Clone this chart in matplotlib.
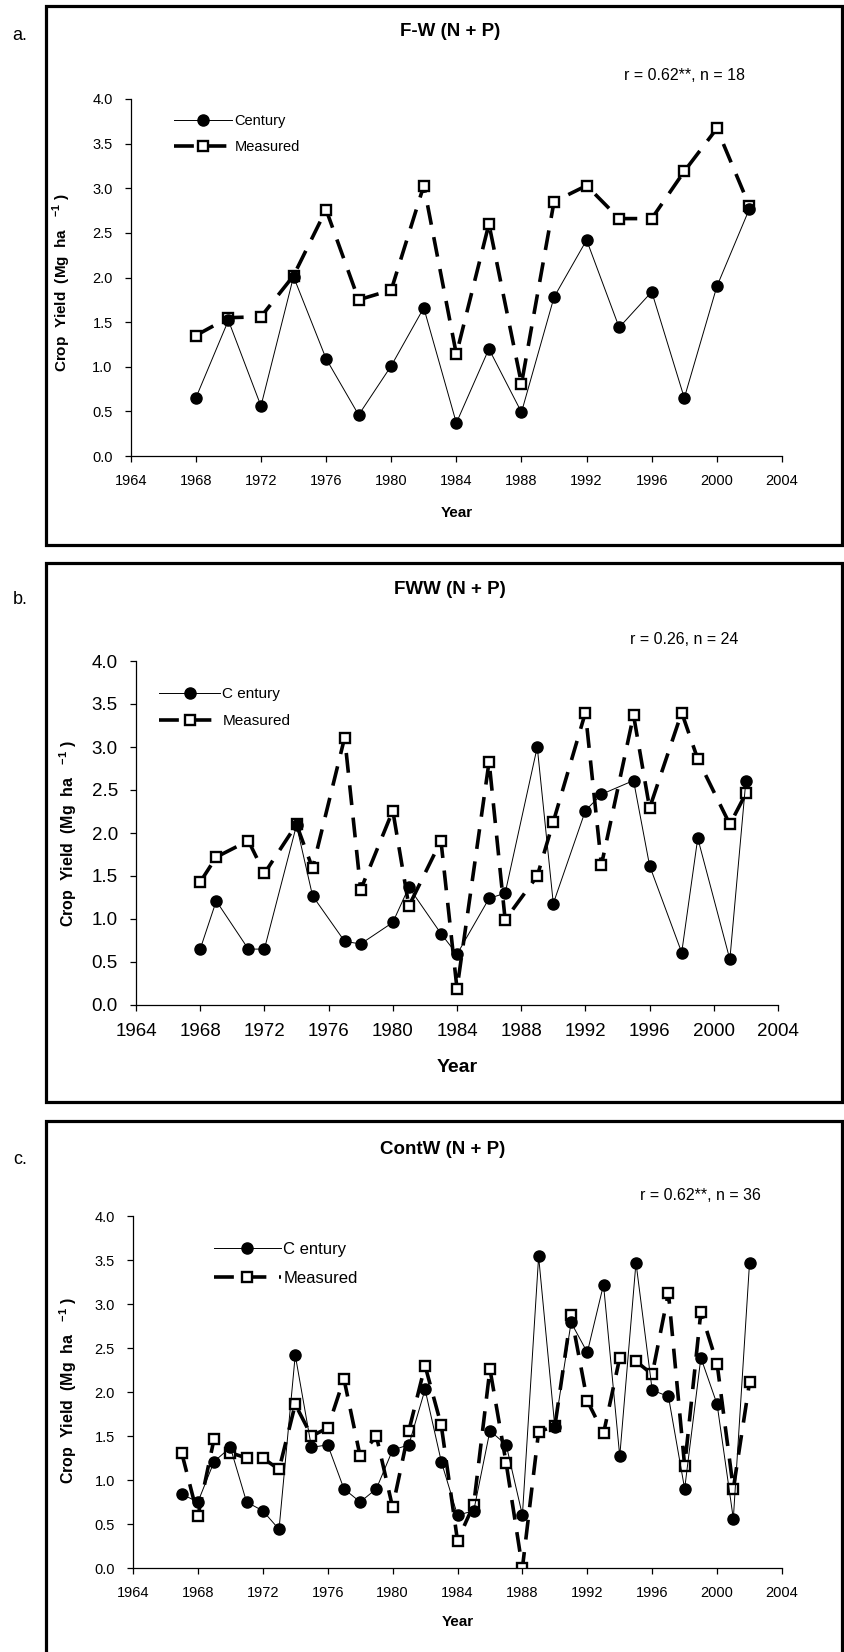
import matplotlib.pyplot as plt
from matplotlib.patches import Rectangle

plt.rcParams['font.family'] = ['Liberation Sans', 'DejaVu Sans']
plt.rcParams['mathtext.fontset'] = 'custom'
plt.rcParams['mathtext.rm'] = 'Liberation Sans'
plt.rcParams['mathtext.bf'] = 'Liberation Sans:bold'

W, H = 844, 1652

# a. F-W (N + P)
years_a = [1968, 1970, 1972, 1974, 1976, 1978, 1980, 1982, 1984, 1986,
           1988, 1990, 1992, 1994, 1996, 1998, 2000, 2002]
century_a = [0.65, 1.52, 0.56, 2.01, 1.09, 0.46, 1.01, 1.66, 0.37, 1.20,
             0.49, 1.78, 2.42, 1.44, 1.84, 0.65, 1.90, 2.77]
measured_a = [1.35, 1.55, 1.56, 2.02, 2.76, 1.75, 1.86, 3.03, 1.14, 2.60,
              0.81, 2.85, 3.03, 2.66, 2.66, 3.19, 3.67, 2.80]

# b. FWW (N + P)
years_b = [1968, 1969, 1971, 1972, 1974, 1975, 1977, 1978, 1980, 1981, 1983, 1984,
           1986, 1987, 1989, 1990, 1992, 1993, 1995, 1996, 1998, 1999, 2001, 2002]
century_b = [0.65, 1.21, 0.65, 0.65, 2.09, 1.27, 0.74, 0.71, 0.96, 1.37, 0.83, 0.59,
             1.24, 1.30, 3.00, 1.18, 2.26, 2.45, 2.61, 1.62, 0.61, 1.94, 0.53, 2.61]
measured_b = [1.43, 1.72, 1.91, 1.53, 2.10, 1.59, 3.11, 1.34, 2.26, 1.15, 1.91, 0.19,
              2.83, 0.99, 1.50, 2.13, 3.40, 1.63, 3.37, 2.29, 3.40, 2.86, 2.10, 2.46]

# c. ContW (N + P)
years_c = [1967, 1968, 1969, 1970, 1971, 1972, 1973, 1974, 1975, 1976, 1977, 1978,
           1979, 1980, 1981, 1982, 1983, 1984, 1985, 1986, 1987, 1988, 1989, 1990,
           1991, 1992, 1993, 1994, 1995, 1996, 1997, 1998, 1999, 2000, 2001, 2002]
century_c = [0.84, 0.75, 1.21, 1.37, 0.75, 0.65, 0.44, 2.42, 1.37, 1.40, 0.90, 0.75,
             0.90, 1.34, 1.40, 2.03, 1.21, 0.60, 0.65, 1.56, 1.40, 0.60, 3.54, 1.60,
             2.79, 2.45, 3.22, 1.27, 3.47, 2.02, 1.95, 0.90, 2.39, 1.86, 0.56, 3.47]
measured_c = [1.31, 0.59, 1.47, 1.31, 1.25, 1.25, 1.12, 1.86, 1.50, 1.59, 2.15, 1.27,
              1.50, 0.69, 1.56, 2.30, 1.62, 0.31, 0.72, 2.26, 1.19, 0.00, 1.55, 1.61,
              2.88, 1.90, 1.53, 2.39, 2.35, 2.20, 3.13, 1.16, 2.91, 2.32, 0.90, 2.11]

xticks = [1964, 1968, 1972, 1976, 1980, 1984, 1988, 1992, 1996, 2000, 2004]
yticks = [0.0, 0.5, 1.0, 1.5, 2.0, 2.5, 3.0, 3.5, 4.0]
ylab = 'Crop  Yield  (Mg  ha   $^{\\mathbf{-1}}$ )'


def fx(x):
    return x / W


def fy(y):
    return 1 - y / H


def panel(fig, box, axbox, letter, letter_y, title, title_xy, rtext, r_xy,
          leg_xy, leg_names, years, century, measured,
          tick_size, leg_size, ylab_size, ylab_xy, year_y):
    bx0, by0, bx1, by1 = box
    fig.add_artist(Rectangle((fx(bx0), fy(by1)), fx(bx1 - bx0), (by1 - by0) / H,
                             transform=fig.transFigure, fill=False, lw=2.3,
                             ec='black'))
    fig.text(fx(20), fy(letter_y), letter, fontsize=13, ha='center', va='center')

    x0, x1, yt, yb = axbox
    ax = fig.add_axes([fx(x0), fy(yb), fx(x1 - x0), (yb - yt) / H])
    ax.plot(years, measured, color='black', lw=2.6, dashes=(5.5, 3.5),
            marker='s', ms=7, mfc='white', mec='black', mew=1.7,
            label=leg_names[1], zorder=2)
    ax.plot(years, century, color='black', lw=0.7, marker='o', ms=8,
            mfc='black', mec='black', label=leg_names[0], zorder=3)

    ax.set_xlim(1964, 2004)
    ax.set_ylim(0, 4)
    ax.set_xticks(xticks)
    ax.set_yticks(yticks)
    ax.set_yticklabels(['%.1f' % v for v in yticks])
    for s in ['top', 'right']:
        ax.spines[s].set_visible(False)
    for s in ['left', 'bottom']:
        ax.spines[s].set_linewidth(0.9)
    ax.tick_params(direction='out', length=4, width=0.9, labelsize=tick_size)
    ax.tick_params(axis='x', pad=9)
    ax.tick_params(axis='y', pad=9)
    ax.patch.set_alpha(0)

    fig.text(fx((x0 + x1) / 2), fy(year_y), 'Year', fontsize=tick_size + 0.5,
             fontweight='bold', ha='center', va='center')
    fig.text(fx(ylab_xy[0]), fy(ylab_xy[1]), ylab, rotation=90,
             fontsize=ylab_size, fontweight='bold', ha='center', va='center')

    fig.text(fx(title_xy[0]), fy(title_xy[1]), title, fontsize=13.5,
             fontweight='bold', ha='center', va='center')
    fig.text(fx(r_xy[0]), fy(r_xy[1]), rtext, fontsize=11.5, ha='center',
             va='center')

    h, l = ax.get_legend_handles_labels()
    ax.legend([h[1], h[0]], [l[1], l[0]], loc='upper left',
              bbox_to_anchor=(fx(leg_xy[0]), fy(leg_xy[1])),
              bbox_transform=fig.transFigure, frameon=False, borderpad=0,
              borderaxespad=0, handlelength=4.0, handletextpad=0.15,
              labelspacing=0.85, prop={'size': leg_size})
    return ax


fig = plt.figure(figsize=(W / 100, H / 100), dpi=100)

panel(fig, (46, 6, 842, 545), (130.7, 782, 99, 456), 'a.', 36,
      'F-W (N + P)', (450, 32), 'r = 0.62**, n = 18', (684, 76),
      (174, 114), ['Century', 'Measured'], years_a, century_a, measured_a,
      10.5, 10.5, 11, (62, 283), 513)

panel(fig, (46, 563, 842, 1102), (136, 778, 661, 1005), 'b.', 600,
      'FWW (N + P)', (450, 590), 'r = 0.26, n = 24', (684, 639),
      (159, 687), ['C entury', 'Measured'], years_b, century_b, measured_b,
      13.5, 11, 11.5, (68, 834), 1068)

panel(fig, (46, 1121, 842, 1700), (133, 782, 1216, 1568), 'c.', 1159,
      'ContW (N + P)', (443, 1149), 'r = 0.62**, n = 36', (700, 1196),
      (214, 1242), ['C entury', 'Measured'], years_c, century_c, measured_c,
      10.5, 12, 11.5, (68, 1391), 1622)

fig.savefig('out.png', dpi=100)
plt.close()
